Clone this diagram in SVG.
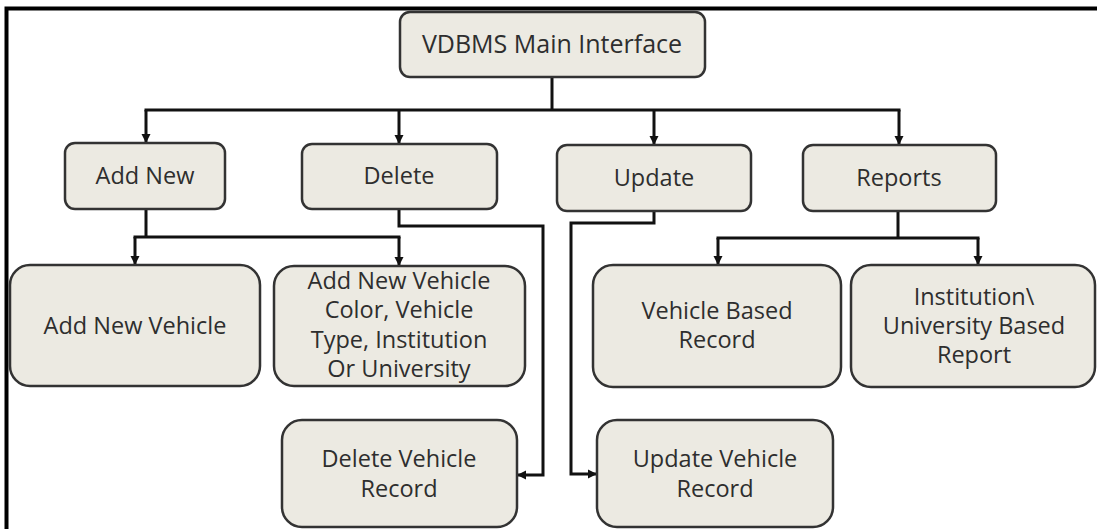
<svg xmlns="http://www.w3.org/2000/svg" width="1097" height="529" viewBox="0 0 1097 529">
<style>
.box{fill:#ECEAE2;stroke:#333;stroke-width:2.5}
.t{font-family:"Open Sans","Liberation Sans",sans-serif;font-size:23.5px;fill:#2e2e2e;text-anchor:middle;font-weight:500}
.c{fill:none;stroke:#111;stroke-width:3}
</style>
<defs>
<marker id="ah" markerWidth="10" markerHeight="10" refX="9" refY="5" orient="auto" markerUnits="userSpaceOnUse">
<path d="M0,0.5 L9,5 L0,9.5 Z" fill="#111"/>
</marker>
</defs>
<rect x="0" y="0" width="1097" height="529" fill="#fff"/>
<path d="M6.5,529 V8.5 H1097" fill="none" stroke="#000" stroke-width="4"/>
<g id="connectors">
<path class="c" d="M552,77 V110"/>
<path class="c" d="M144.5,110 H900.5"/>
<path class="c" d="M146,110 V143" marker-end="url(#ah)"/>
<path class="c" d="M399,110 V144" marker-end="url(#ah)"/>
<path class="c" d="M654,110 V145" marker-end="url(#ah)"/>
<path class="c" d="M899,110 V145" marker-end="url(#ah)"/>
<path class="c" d="M146,209 V237"/>
<path class="c" d="M133.5,237 H400.5"/>
<path class="c" d="M135,237 V265" marker-end="url(#ah)"/>
<path class="c" d="M399,237 V266" marker-end="url(#ah)"/>
<path class="c" d="M399,209 V226 H543 V475 H517" marker-end="url(#ah)"/>
<path class="c" d="M654,211 V223 H571 V474 H597" marker-end="url(#ah)"/>
<path class="c" d="M898,211 V238"/>
<path class="c" d="M716.5,238 H979.5"/>
<path class="c" d="M718,238 V265" marker-end="url(#ah)"/>
<path class="c" d="M978,238 V265" marker-end="url(#ah)"/>
</g>
<g id="main"><rect class="box" x="400" y="12" width="305" height="65" rx="10"/><text class="t" x="552" y="53" style="font-size:25px">VDBMS Main Interface</text></g>
<g id="addnew"><rect class="box" x="65" y="143" width="160" height="66" rx="10"/><text class="t" x="145" y="184">Add New</text></g>
<g id="delete"><rect class="box" x="302" y="144" width="195" height="65" rx="10"/><text class="t" x="399" y="184">Delete</text></g>
<g id="update"><rect class="box" x="557" y="145" width="194" height="66" rx="10"/><text class="t" x="654" y="186">Update</text></g>
<g id="reports"><rect class="box" x="803" y="145" width="193" height="66" rx="10"/><text class="t" x="899" y="186">Reports</text></g>
<g id="addnewvehicle"><rect class="box" x="10" y="265" width="250" height="121" rx="20"/><text class="t" x="135" y="334">Add New Vehicle</text></g>
<g id="addcolor"><rect class="box" x="274" y="266" width="251" height="120" rx="20"/><text class="t" x="399" y="289">Add New Vehicle</text><text class="t" x="399" y="318">Color, Vehicle</text><text class="t" x="399" y="348">Type, Institution</text><text class="t" x="399" y="377">Or University</text></g>
<g id="vehiclebased"><rect class="box" x="593" y="265" width="248" height="122" rx="20"/><text class="t" x="717" y="319">Vehicle Based</text><text class="t" x="717" y="348">Record</text></g>
<g id="institution"><rect class="box" x="851" y="265" width="244" height="122" rx="20"/><text class="t" x="974" y="305">Institution\</text><text class="t" x="974" y="334">University Based</text><text class="t" x="974" y="363">Report</text></g>
<g id="deleterecord"><rect class="box" x="282" y="420" width="235" height="107" rx="20"/><text class="t" x="399" y="467">Delete Vehicle</text><text class="t" x="399" y="497">Record</text></g>
<g id="updaterecord"><rect class="box" x="597" y="420" width="236" height="107" rx="20"/><text class="t" x="715" y="467">Update Vehicle</text><text class="t" x="715" y="497">Record</text></g>
</svg>
